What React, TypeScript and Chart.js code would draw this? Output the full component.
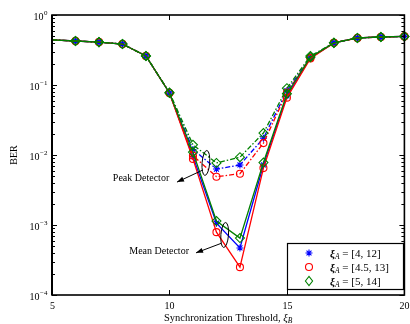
import React, { useEffect, useRef } from 'react';
import { Chart, registerables } from 'chart.js';
Chart.register(...registerables);

// ---- data ----
const thresholds = [5, 6, 7, 8, 9, 10, 11, 12, 13, 14, 15, 16, 17, 18, 19, 20];

// Mean detector (solid)
const meanA412 = [0.44, 0.425, 0.41, 0.385, 0.26, 0.077, 0.0095, 0.00106, 0.00047, 0.0072, 0.07, 0.245, 0.4, 0.47, 0.485, 0.495];
const meanA4513 = [0.44, 0.425, 0.41, 0.385, 0.26, 0.077, 0.0088, 0.00079, 0.00025, 0.0065, 0.066, 0.24, 0.4, 0.47, 0.485, 0.495];
const meanA514 = [0.44, 0.425, 0.41, 0.385, 0.26, 0.077, 0.011, 0.00114, 0.00065, 0.0078, 0.075, 0.25, 0.4, 0.47, 0.485, 0.495];

// Peak detector (dash-dot)
const peakA412 = [0.44, 0.425, 0.41, 0.385, 0.26, 0.077, 0.012, 0.0063, 0.0072, 0.0174, 0.083, 0.25, 0.4, 0.47, 0.485, 0.495];
const peakA4513 = [0.44, 0.425, 0.41, 0.385, 0.26, 0.077, 0.0098, 0.0049, 0.0054, 0.0148, 0.078, 0.245, 0.4, 0.47, 0.485, 0.495];
const peakA514 = [0.44, 0.425, 0.41, 0.385, 0.26, 0.078, 0.014, 0.0077, 0.0093, 0.0206, 0.09, 0.26, 0.4, 0.47, 0.485, 0.495];

const xTickValues = [5, 10, 15, 20];
const yTickExponents = [0, -1, -2, -3, -4];
const legendRanges = ['[4, 12]', '[4.5, 13]', '[5, 14]'];
const xTitle = 'Synchronization Threshold, ';
const xTitleSym = 'ξ';
const xTitleSub = 'B';
const yTitle = 'BER';
const peakLabel = 'Peak Detector';
const meanLabel = 'Mean Detector';

// annotation anchors (data coordinates)
const peakEllipse = { x: 11.55, y: 0.0077 };
const peakArrow = { fromX: 11.42, fromY: 0.0061, toX: 10.32, toY: 0.0041 };
const peakText = { x: 9.99, y: 0.0047 };
const meanEllipse = { x: 12.35, y: 0.00072 };
const meanArrow = { fromX: 12.22, fromY: 0.00055, toX: 11.13, toY: 0.0004 };
const meanText = { x: 10.83, y: 0.000425 };

const BLUE = '#0000ff';
const RED = '#ff0000';
const GREEN = '#008000';
const SERIF = '"Liberation Serif", "DejaVu Serif", serif';

const seriesStyle = [
  { color: BLUE, point: 'star', r: 3.5 },
  { color: RED, point: 'circle', r: 3.5 },
  { color: GREEN, point: 'rectRot', r: 4.5 },
];

function pts(vals: number[]) {
  return thresholds.map((t, i) => ({ x: t, y: vals[i] }));
}

function drawMarker(ctx: CanvasRenderingContext2D, kind: string, x: number, y: number, r: number, color: string) {
  ctx.save();
  ctx.strokeStyle = color;
  ctx.lineWidth = 1.1;
  ctx.beginPath();
  if (kind === 'star') {
    ctx.moveTo(x - r, y); ctx.lineTo(x + r, y);
    ctx.moveTo(x, y - r); ctx.lineTo(x, y + r);
    const d = r * Math.SQRT1_2;
    ctx.moveTo(x - d, y - d); ctx.lineTo(x + d, y + d);
    ctx.moveTo(x - d, y + d); ctx.lineTo(x + d, y - d);
  } else if (kind === 'circle') {
    ctx.arc(x, y, r, 0, Math.PI * 2);
  } else {
    ctx.moveTo(x - r * 0.8, y); ctx.lineTo(x, y - r); ctx.lineTo(x + r * 0.8, y); ctx.lineTo(x, y + r); ctx.closePath();
  }
  ctx.stroke();
  ctx.restore();
}

function arrow(ctx: CanvasRenderingContext2D, x1: number, y1: number, x2: number, y2: number) {
  ctx.beginPath();
  ctx.moveTo(x1, y1);
  ctx.lineTo(x2, y2);
  ctx.stroke();
  const ang = Math.atan2(y2 - y1, x2 - x1);
  const L = 7, W = 2.6;
  ctx.beginPath();
  ctx.moveTo(x2, y2);
  ctx.lineTo(x2 - L * Math.cos(ang) + W * Math.sin(ang), y2 - L * Math.sin(ang) - W * Math.cos(ang));
  ctx.lineTo(x2 - L * Math.cos(ang) - W * Math.sin(ang), y2 - L * Math.sin(ang) + W * Math.cos(ang));
  ctx.closePath();
  ctx.fill();
}

const axesPlugin = {
  id: 'matlabAxes',
  afterDatasetsDraw(chart: any) {
    const { ctx, chartArea: a, scales } = chart;
    const xs = scales.x, ys = scales.y;
    ctx.save();
    ctx.fillStyle = '#000';
    ctx.strokeStyle = '#000';

    // annotations
    ctx.lineWidth = 1;
    for (const e of [peakEllipse, meanEllipse]) {
      ctx.beginPath();
      ctx.ellipse(xs.getPixelForValue(e.x), ys.getPixelForValue(e.y), 3.8, 12.5, 0.08, 0, Math.PI * 2);
      ctx.stroke();
    }
    for (const ar of [peakArrow, meanArrow]) {
      arrow(ctx, xs.getPixelForValue(ar.fromX), ys.getPixelForValue(ar.fromY), xs.getPixelForValue(ar.toX), ys.getPixelForValue(ar.toY));
    }
    ctx.font = `10px ${SERIF}`;
    ctx.textAlign = 'right';
    ctx.textBaseline = 'middle';
    ctx.fillText(peakLabel, xs.getPixelForValue(peakText.x), ys.getPixelForValue(peakText.y));
    ctx.fillText(meanLabel, xs.getPixelForValue(meanText.x), ys.getPixelForValue(meanText.y));

    // frame
    ctx.lineWidth = 1.6;
    ctx.strokeRect(a.left, a.top, a.right - a.left, a.bottom - a.top);
    ctx.lineWidth = 2;
    ctx.beginPath(); ctx.moveTo(a.left, a.top); ctx.lineTo(a.left, a.bottom); ctx.stroke();

    // y ticks
    ctx.lineWidth = 1;
    for (const e of yTickExponents) {
      const py = Math.round(ys.getPixelForValue(Math.pow(10, e))) + 0.5;
      ctx.beginPath();
      ctx.moveTo(a.left, py); ctx.lineTo(a.left + 5, py);
      ctx.moveTo(a.right, py); ctx.lineTo(a.right - 5, py);
      ctx.stroke();
      const exp = e === 0 ? '0' : '\u2212' + Math.abs(e);
      ctx.font = `10px ${SERIF}`;
      const w10 = ctx.measureText('10').width;
      ctx.font = `7px ${SERIF}`;
      const we = ctx.measureText(exp).width;
      const x0 = a.left - 5 - w10 - we;
      ctx.textAlign = 'left';
      ctx.textBaseline = 'alphabetic';
      ctx.font = `10px ${SERIF}`;
      ctx.fillText('10', x0, py + 4);
      ctx.font = `7px ${SERIF}`;
      ctx.fillText(exp, x0 + w10 + 0.5, py - 1);
    }
    for (let e = -4; e < 0; e++) {
      for (let m = 2; m <= 9; m++) {
        const py = Math.round(ys.getPixelForValue(m * Math.pow(10, e))) + 0.5;
        ctx.beginPath();
        ctx.moveTo(a.left, py); ctx.lineTo(a.left + 3, py);
        ctx.moveTo(a.right, py); ctx.lineTo(a.right - 3, py);
        ctx.stroke();
      }
    }

    // x ticks
    ctx.font = `10px ${SERIF}`;
    ctx.textAlign = 'center';
    ctx.textBaseline = 'middle';
    for (const v of xTickValues) {
      const px = Math.round(xs.getPixelForValue(v)) + 0.5;
      ctx.beginPath();
      ctx.moveTo(px, a.bottom); ctx.lineTo(px, a.bottom - 5);
      ctx.moveTo(px, a.top); ctx.lineTo(px, a.top + 5);
      ctx.stroke();
      ctx.fillText(String(v), px, a.bottom + 11);
    }

    // x title
    ctx.font = `10.5px ${SERIF}`;
    const wt = ctx.measureText(xTitle).width;
    ctx.font = `italic 10.5px ${SERIF}`;
    const ws = ctx.measureText(xTitleSym).width;
    ctx.font = `italic 7.5px ${SERIF}`;
    const wb = ctx.measureText(xTitleSub).width;
    const cx = (a.left + a.right) / 2;
    let tx = cx - (wt + ws + wb) / 2;
    const ty = a.bottom + 26;
    ctx.textAlign = 'left';
    ctx.textBaseline = 'alphabetic';
    ctx.font = `10.5px ${SERIF}`;
    ctx.fillText(xTitle, tx, ty);
    tx += wt;
    ctx.font = `italic 10.5px ${SERIF}`;
    ctx.fillText(xTitleSym, tx, ty);
    tx += ws;
    ctx.font = `italic 7.5px ${SERIF}`;
    ctx.fillText(xTitleSub, tx, ty + 2);

    // y title
    ctx.save();
    ctx.translate(14, (a.top + a.bottom) / 2);
    ctx.rotate(-Math.PI / 2);
    ctx.font = `10px ${SERIF}`;
    ctx.textAlign = 'center';
    ctx.textBaseline = 'middle';
    ctx.fillText(yTitle, 0, 0);
    ctx.restore();

    // legend
    const lx = 287, ly = 243, lw = 116, lh = 46;
    ctx.fillStyle = '#fff';
    ctx.fillRect(lx, ly, lw, lh);
    ctx.lineWidth = 1.2;
    ctx.strokeStyle = '#000';
    ctx.strokeRect(lx + 0.5, ly + 0.5, lw, lh);
    ctx.fillStyle = '#000';
    legendRanges.forEach((rng, i) => {
      const rowY = ly + 10 + i * 14;
      const st = seriesStyle[i];
      drawMarker(ctx, st.point, lx + 22, rowY, st.r, st.color);
      let x = lx + 43;
      ctx.textAlign = 'left';
      ctx.textBaseline = 'alphabetic';
      ctx.font = `bold italic 11px ${SERIF}`;
      ctx.fillText('ξ', x, rowY + 3.5);
      x += ctx.measureText('ξ').width;
      ctx.font = `italic 7.5px ${SERIF}`;
      ctx.fillText('A', x, rowY + 5.5);
      x += ctx.measureText('A').width;
      ctx.font = `11px ${SERIF}`;
      ctx.fillText(' = ' + rng, x, rowY + 3.5);
    });
    ctx.restore();
  },
};

export default function App() {
  const ref = useRef<HTMLCanvasElement>(null);
  useEffect(() => {
    if (!ref.current) return;
    const mean = [meanA412, meanA4513, meanA514];
    const peak = [peakA412, peakA4513, peakA514];
    const datasets: any[] = [];
    const order = [2, 1, 0];
    [0, 1, 2].forEach((i) => {
      const st = seriesStyle[i];
      const common = {
        borderColor: st.color,
        backgroundColor: 'rgba(0,0,0,0)',
        pointBorderColor: st.color,
        pointBackgroundColor: 'rgba(0,0,0,0)',
        pointStyle: st.point,
        pointRadius: thresholds.map((_, k) => (k === 0 ? 0 : st.r)),
        pointBorderWidth: 1.1,
        borderWidth: 1.3,
        tension: 0,
        clip: false,
        order: order[i],
      };
      datasets.push({ ...common, label: 'mean ' + legendRanges[i], data: pts(mean[i]) });
      datasets.push({ ...common, label: 'peak ' + legendRanges[i], data: pts(peak[i]), borderDash: [5, 2, 1.5, 2] });
    });
    const chart = new Chart(ref.current, {
      type: 'line',
      data: { datasets },
      options: {
        animation: false,
        responsive: false,
        layout: { padding: { left: 52, right: 2, top: 15, bottom: 29 } },
        plugins: { legend: { display: false }, tooltip: { enabled: false } },
        scales: {
          x: { type: 'linear', min: 5, max: 20, display: false },
          y: { type: 'logarithmic', min: 1e-4, max: 1, display: false },
        },
      },
      plugins: [axesPlugin],
    });
    return () => chart.destroy();
  }, []);
  return (
    <div style={{ position: 'absolute', left: 0, top: 0, width: 410, height: 324, background: '#fff' }}>
      <canvas ref={ref} width={410} height={324} style={{ display: 'block' }} />
    </div>
  );
}
